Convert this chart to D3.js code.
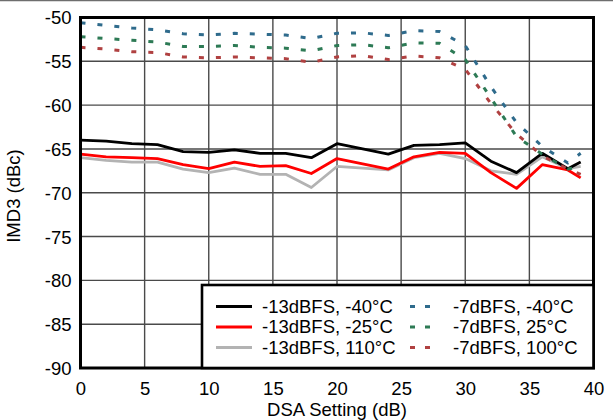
<!DOCTYPE html>
<html>
<head>
<meta charset="utf-8">
<script src="https://cdn.jsdelivr.net/npm/d3@7"></script>
<style>
html,body{margin:0;padding:0;background:#fff;}
svg{display:block;font-family:"Liberation Sans",Arial,sans-serif;}
</style>
</head>
<body>
<svg id="chart" width="613" height="420"></svg>
<script>
// DSA setting (dB)
const dsa = [0,2,4,6,8,10,12,14,16,18,20,22,24,26,28,30,32,34,36,38,39];
// IMD3 (dBc)
const m13_n40 = [-64.0,-64.1,-64.4,-64.5,-65.3,-65.4,-65.1,-65.5,-65.5,-66.0,-64.4,-65.0,-65.6,-64.6,-64.5,-64.3,-66.4,-67.7,-65.5,-67.25,-66.5];
const m13_n25 = [-65.6,-65.9,-66.0,-66.1,-66.8,-67.25,-66.5,-67.0,-66.9,-67.8,-66.1,-66.7,-67.3,-65.9,-65.4,-65.5,-67.7,-69.5,-66.8,-67.4,-68.3];
const m13_110 = [-66.0,-66.3,-66.5,-66.5,-67.3,-67.7,-67.2,-67.9,-67.9,-69.4,-67.0,-67.2,-67.4,-66.0,-65.5,-66.1,-67.5,-67.9,-65.9,-67.25,-67.0];
const m7_n40  = [-50.6,-50.9,-51.2,-51.4,-51.85,-52.0,-51.8,-51.9,-52.0,-52.4,-51.8,-51.75,-52.05,-51.5,-51.6,-53.2,-57.9,-62.0,-64.7,-66.6,-65.5];
const m7_25   = [-52.2,-52.4,-52.6,-52.8,-53.3,-53.3,-53.2,-53.4,-53.5,-53.8,-53.2,-53.1,-53.45,-52.9,-52.95,-54.8,-59.2,-63.6,-65.6,-67.3,-67.0];
const m7_100  = [-53.4,-53.6,-53.9,-54.0,-54.5,-54.6,-54.5,-54.6,-54.7,-55.1,-54.5,-54.35,-54.8,-54.4,-54.6,-55.9,-59.8,-63.3,-65.8,-67.3,-67.9];

const seriesNames = ["-13dBFS, -40°C","-13dBFS, -25°C","-13dBFS, 110°C","-7dBFS, -40°C","-7dBFS, 25°C","-7dBFS, 100°C"];
const xTicks = [0,5,10,15,20,25,30,35,40];
const yTicks = [-50,-55,-60,-65,-70,-75,-80,-85,-90];

const series = [
  {name: seriesNames[0], values: m13_n40, color: "#000000", dash: null},
  {name: seriesNames[1], values: m13_n25, color: "#ff0000", dash: null},
  {name: seriesNames[2], values: m13_110, color: "#b3b3b3", dash: null},
  {name: seriesNames[3], values: m7_n40, color: "#2f6b8c", dash: "5,12"},
  {name: seriesNames[4], values: m7_25, color: "#2d7a55", dash: "5,12"},
  {name: seriesNames[5], values: m7_100, color: "#b04141", dash: "5,12"}
];

const svg = d3.select("#chart");
const L = 80.5, R = 593.5, T = 17.5, B = 368;
const x = d3.scaleLinear().domain([0,40]).range([L,R]);
const y = d3.scaleLinear().domain([-90,-50]).range([B,T]);

// top border line of image
svg.append("line").attr("x1",0).attr("x2",613).attr("y1",0.6).attr("y2",0.6)
  .attr("stroke","#6e6e6e").attr("stroke-width",1.4);

// grid
const grid = svg.append("g");
grid.selectAll(".gx").data(xTicks.slice(1,-1)).join("line")
  .attr("x1",d=>x(d)).attr("x2",d=>x(d)).attr("y1",T).attr("y2",B)
  .attr("stroke","#4a4a4a").attr("stroke-width",1.4);
grid.selectAll(".gy").data(yTicks.slice(1,-1)).join("line")
  .attr("x1",L).attr("x2",R).attr("y1",d=>y(d)).attr("y2",d=>y(d))
  .attr("stroke","#4a4a4a").attr("stroke-width",1.4);

// axes labels via d3 axes (no tick lines)
const xAxis = svg.append("g").attr("transform",`translate(0,${B})`)
  .call(d3.axisBottom(x).tickValues(xTicks).tickSize(0).tickPadding(0).tickFormat(d3.format("d")));
xAxis.select(".domain").remove();
xAxis.selectAll("text").attr("y",27).attr("dy",0).attr("font-size","18.5px")
  .attr("font-family","'Liberation Sans',Arial,sans-serif").attr("fill","#000");

const yAxis = svg.append("g").attr("transform",`translate(${L},0)`)
  .call(d3.axisLeft(y).tickValues(yTicks).tickSize(0).tickPadding(0).tickFormat(d=>d3.format("d")(d).replace("−","-")));
yAxis.select(".domain").remove();
yAxis.selectAll("text").attr("x",-9).attr("dy","0.35em").attr("font-size","18.5px")
  .attr("font-family","'Liberation Sans',Arial,sans-serif").attr("fill","#000");

// series lines
const line = d3.line().x((d,i)=>x(dsa[i])).y(d=>y(d));
const plotClip = svg.append("defs").append("clipPath").attr("id","clip")
  .append("rect").attr("x",L).attr("y",T).attr("width",R-L).attr("height",B-T);
const lines = svg.append("g").attr("clip-path","url(#clip)");
const order = [2,1,0,3,4,5];
order.forEach(k=>{
  const s = series[k];
  lines.append("path").datum(s.values)
    .attr("d",line).attr("fill","none")
    .attr("stroke",s.color).attr("stroke-width",s.dash?3:2.8)
    .attr("stroke-dasharray",s.dash)
    .attr("stroke-linejoin","round");
});

// plot border
svg.append("rect").attr("x",L).attr("y",T).attr("width",R-L).attr("height",B-T)
  .attr("fill","none").attr("stroke","#000").attr("stroke-width",3);

// legend
const lg = svg.append("g");
const LX = 202, LY = 285;
lg.append("rect").attr("x",LX).attr("y",LY).attr("width",R-LX).attr("height",B-LY)
  .attr("fill","#fff").attr("stroke","#000").attr("stroke-width",2.6);
const rowY = [306.5,327,347.5];
series.forEach((s,i)=>{
  const col = i<3?0:1, row = i%3;
  const sx = col===0 ? 216 : 410;
  const sw = col===0 ? 36 : 20;
  const tx = col===0 ? 262 : 453;
  lg.append("line").attr("x1",sx).attr("x2",sx+sw).attr("y1",rowY[row]).attr("y2",rowY[row])
    .attr("stroke",s.color).attr("stroke-width",3)
    .attr("stroke-dasharray",s.dash?"5,10":null);
  lg.append("text").attr("x",tx).attr("y",rowY[row]).attr("dy","0.35em")
    .attr("font-size","18.5px").attr("fill","#000").text(s.name);
});

// axis titles
svg.append("text").attr("x",(L+R)/2).attr("y",415.5).attr("text-anchor","middle")
  .attr("font-size","18.5px").attr("fill","#000").text("DSA Setting (dB)");
svg.append("text").attr("transform","translate(20,196) rotate(-90)").attr("text-anchor","middle")
  .attr("font-size","18.5px").attr("fill","#000").text("IMD3 (dBc)");
</script>
</body>
</html>
